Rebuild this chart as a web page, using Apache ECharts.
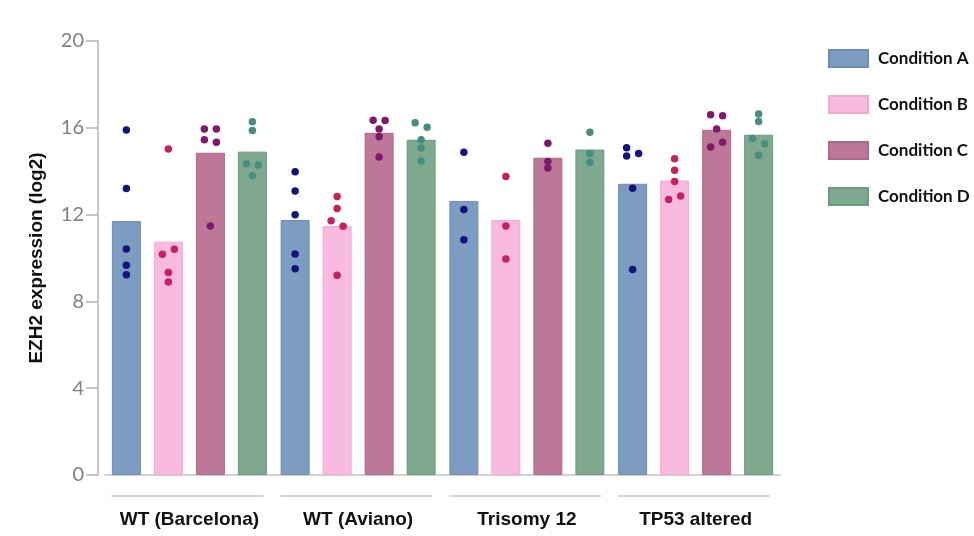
<!DOCTYPE html>
<html>
<head>
<meta charset="utf-8">
<title>EZH2 expression by cohort</title>
<script src="https://cdn.jsdelivr.net/npm/echarts@6/dist/echarts.min.js"></script>
<style>
  html, body { margin: 0; padding: 0; background: #ffffff; }
  #chart { width: 974px; height: 536px; }
</style>
</head>
<body>
<div id="chart"></div>
<script>
// Cohorts on the x axis and the four conditions shown in the legend
const groups = ['WT (Barcelona)', 'WT (Aviano)', 'Trisomy 12', 'TP53 altered'];
const conditions = ['Condition A', 'Condition B', 'Condition C', 'Condition D'];
const yTicks = [0, 4, 8, 12, 16, 20];

// Bar heights (mean EZH2 log2 expression per cohort)
const meanA = [11.7, 11.75, 12.63, 13.42];
const meanB = [10.75, 11.47, 11.75, 13.57];
const meanC = [14.85, 15.77, 14.62, 15.91];
const meanD = [14.9, 15.45, 15.0, 15.68];

// Individual samples per cohort
const samplesA = [
  [15.9, 13.2, 10.42, 9.67, 9.23],
  [13.98, 13.09, 11.99, 10.19, 9.5],
  [14.87, 12.23, 10.84],
  [15.08, 14.7, 14.82, 13.21, 9.47]
];
const samplesB = [
  [15.02, 10.17, 10.4, 9.33, 8.89],
  [12.83, 12.28, 11.72, 11.46, 9.2],
  [13.76, 11.48, 9.95],
  [14.57, 14.04, 13.52, 12.7, 12.86]
];
const samplesC = [
  [15.95, 15.95, 15.45, 15.33, 11.48],
  [16.35, 16.34, 15.95, 15.59, 14.65],
  [15.29, 14.45, 14.15],
  [16.6, 16.55, 15.95, 15.11, 15.33]
];
const samplesD = [
  [16.28, 15.88, 14.34, 14.28, 13.79],
  [16.23, 16.03, 15.45, 15.07, 14.47],
  [15.8, 14.82, 14.41],
  [16.64, 16.29, 15.51, 15.26, 14.74]
];

// Side-step of each dot inside its bar (-1 left, 0 centre, 1 right) to avoid overlap
const dotSideA = [[0,0,0,0,0],[0,0,0,0,0],[0,0,0],[-1,-1,1,0,0]];
const dotSideB = [[0,-1,1,0,0],[0,0,-1,1,0],[0,0,0],[0,0,0,-1,1]];
const dotSideC = [[-1,1,-1,1,0],[-1,1,0,0,0],[0,0,0],[-1,1,0,-1,1]];
const dotSideD = [[0,0,-1,1,0],[-1,1,0,0,0],[0,0,0],[0,0,-1,1,0]];

// Styling
const barColors = ['#7d9cc2', '#f8bade', '#bd7899', '#7ea98f'];
const barEdges  = ['#6f8db2', '#eeaad0', '#ad6a8a', '#6f9a80'];
const dotColors = ['#14147a', '#c8205f', '#7e1a6c', '#468f80'];
const BAR_W = 29;
const BAR_GAP = 13;
const DOT_STEP = 6;

const means = [meanA, meanB, meanC, meanD];
const samples = [samplesA, samplesB, samplesC, samplesD];
const sides = [dotSideA, dotSideB, dotSideC, dotSideD];

const series = [];

conditions.forEach((name, i) => {
  series.push({
    name: name,
    type: 'bar',
    data: means[i],
    barWidth: BAR_W,
    barGap: (BAR_GAP / BAR_W * 100) + '%',
    itemStyle: { color: barColors[i], borderColor: barEdges[i], borderWidth: 1 },
    emphasis: { disabled: true },
    z: 2
  });
});

// Dots sit over their condition's bar: shift from the cohort centre by the bar slot
conditions.forEach((name, i) => {
  const slot = (i - 1.5) * (BAR_W + BAR_GAP);
  const pts = [];
  samples[i].forEach((vals, g) => {
    vals.forEach((v, k) => {
      pts.push({
        value: [g, v],
        symbolOffset: [slot + sides[i][g][k] * DOT_STEP, 0]
      });
    });
  });
  series.push({
    name: name + ' samples',
    type: 'scatter',
    data: pts,
    symbolSize: 7.5,
    itemStyle: { color: dotColors[i], opacity: 1 },
    emphasis: { disabled: true },
    z: 5
  });
});

// Grey bracket line under each cohort, above its label
series.push({
  type: 'custom',
  silent: true,
  clip: false,
  data: groups.map((g, idx) => [idx, 0]),
  renderItem: function (params, api) {
    const c = api.coord([api.value(0), 0]);
    const w = api.size([1, 0])[0];
    return {
      type: 'line',
      shape: { x1: c[0] - w * 0.45 - 2, y1: c[1] + 21, x2: c[0] + w * 0.45 - 2, y2: c[1] + 21 },
      style: { stroke: '#c9c9c9', lineWidth: 1.5 }
    };
  },
  z: 1
});

const chart = echarts.init(document.getElementById('chart'), null, { renderer: 'canvas' });

chart.setOption({
  animation: false,
  backgroundColor: '#ffffff',
  grid: { left: 105, right: 194, top: 41, bottom: 61, containLabel: false },
  legend: {
    data: conditions,
    orient: 'vertical',
    left: 823,
    top: 44,
    itemWidth: 39,
    itemHeight: 17,
    itemGap: 27,
    icon: 'rect',
    textStyle: {
      fontFamily: 'Lato',
      fontWeight: 'bold',
      fontSize: 17,
      color: '#111111',
      padding: [0, 0, 5, 5]
    },
    selectedMode: false
  },
  xAxis: {
    type: 'category',
    data: groups,
    axisLine: { show: true, lineStyle: { color: '#c4c4c4', width: 1.5 } },
    axisTick: { show: false },
    axisLabel: {
      interval: 0,
      margin: 35,
      fontFamily: 'Liberation Sans',
      fontWeight: 'bold',
      fontSize: 19,
      color: '#111111'
    },
    splitLine: { show: false }
  },
  yAxis: {
    type: 'value',
    min: yTicks[0],
    max: yTicks[yTicks.length - 1],
    interval: yTicks[1] - yTicks[0],
    offset: 7,
    name: 'EZH2 expression (log2)',
    nameLocation: 'middle',
    nameGap: 52,
    nameTextStyle: {
      fontFamily: 'Liberation Sans',
      fontWeight: 'bold',
      fontSize: 19,
      color: '#111111'
    },
    axisLine: { show: true, lineStyle: { color: '#b4b4b4', width: 1.5 } },
    axisTick: { show: true, length: 12, lineStyle: { color: '#b4b4b4', width: 1.5 } },
    axisLabel: {
      margin: 14,
      fontFamily: 'Lato',
      fontSize: 20,
      color: '#808080'
    },
    splitLine: { show: false }
  },
  series: series
});
</script>
</body>
</html>
